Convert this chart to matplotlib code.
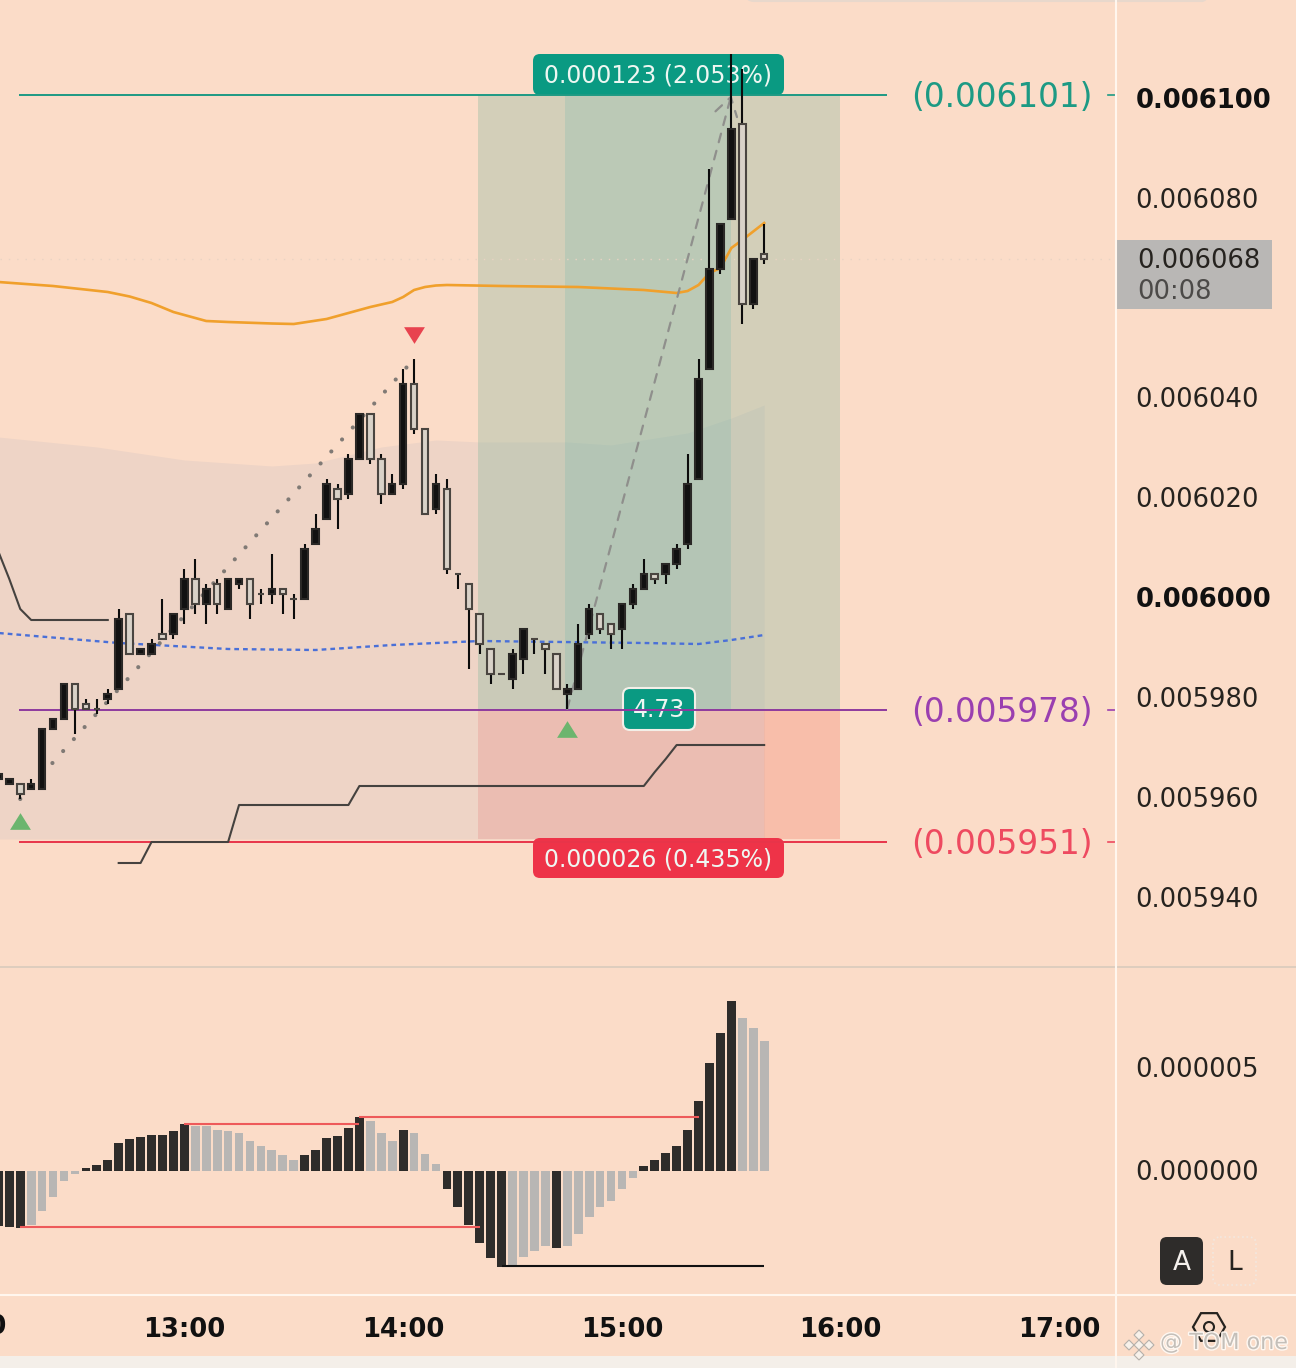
#!/usr/bin/env python3
"""
plot.py - 3 minute candles with a long position box and a MACD style histogram.
"""
import matplotlib
matplotlib.use("Agg")
import matplotlib.pyplot as plt
import matplotlib.patheffects as pe
from matplotlib.lines import Line2D
from matplotlib.patches import FancyBboxPatch, Rectangle, Circle, RegularPolygon
from matplotlib.transforms import Affine2D

plt.rcParams["font.family"] = ["DejaVu Sans"]

BG = "#fbdcc8"
TICK_SIZE = 18.6

# prices are in units of 1e-6, x is the bar number (one bar = 3 minutes)
bars = list(range(-1, 70))
opens = [5964, 5963, 5963, 5962, 5962, 5974, 5976, 5983, 5979, 5978, 5980, 5982, 5997, 5989, 5989, 5993,
         5993, 5998, 6004, 5999, 6003, 5998, 6003, 6004, 6001, 6001, 6002, 6000, 6000, 6011, 6016, 6022,
         6021, 6028, 6037, 6028, 6021, 6023, 6043, 6034, 6018, 6022, 6005, 6003, 5997, 5990, 5985, 5984,
         5988, 5992, 5991, 5989, 5981, 5982, 5993, 5997, 5995, 5994, 5999, 6002, 6005, 6005, 6007, 6011,
         6024, 6046, 6066, 6076, 6095, 6059, 6069]
highs = [5965, 5964, 5963, 5964, 5974, 5976, 5983, 5983, 5980, 5980, 5982, 5998, 5997, 5990, 5992, 6000,
         5997, 6006, 6008, 6003, 6004, 6004, 6004, 6004, 6002, 6009, 6002, 6001, 6011, 6017, 6024, 6023,
         6029, 6037, 6037, 6029, 6025, 6046, 6048, 6034, 6025, 6024, 6005, 6003, 5997, 5990, 5985, 5990,
         5994, 5992, 5991, 5989, 5983, 5995, 5999, 5997, 5995, 5999, 6003, 6008, 6005, 6007, 6011, 6029,
         6048, 6086, 6075, 6109, 6106, 6068, 6075]
lows = [5964, 5963, 5960, 5962, 5962, 5974, 5976, 5973, 5978, 5977, 5979, 5982, 5989, 5989, 5989, 5992,
        5992, 5995, 5997, 5995, 5997, 5998, 6002, 5996, 5999, 5999, 5997, 5996, 6000, 6011, 6016, 6014,
        6020, 6028, 6027, 6019, 6021, 6022, 6033, 6017, 6017, 6005, 6002, 5986, 5989, 5983, 5985, 5982,
        5985, 5989, 5985, 5982, 5978, 5982, 5992, 5993, 5990, 5990, 5998, 6002, 6003, 6003, 6006, 6010,
        6024, 6046, 6065, 6076, 6055, 6058, 6067]
closes = [5965, 5964, 5961, 5963, 5974, 5976, 5983, 5978, 5978, 5978, 5981, 5996, 5989, 5990, 5991, 5992,
          5997, 6004, 5999, 6002, 5999, 6004, 6004, 5999, 6001, 6002, 6001, 6000, 6010, 6014, 6023, 6020,
          6028, 6037, 6028, 6021, 6023, 6043, 6034, 6017, 6023, 6006, 6005, 5998, 5991, 5985, 5985, 5989,
          5994, 5992, 5990, 5982, 5982, 5991, 5998, 5994, 5993, 5999, 6002, 6005, 6004, 6007, 6010, 6023,
          6044, 6066, 6075, 6094, 6059, 6068, 6068]

hist_vals = [-2.7, -2.72, -2.76, -2.63, -1.93, -1.25, -0.47, -0.15, 0.16, 0.29, 0.54, 1.37, 1.56, 1.66, 1.76, 1.76,
             1.95, 2.29, 2.20, 2.20, 2.0, 1.95, 1.85, 1.46, 1.22, 1.02, 0.78, 0.54, 0.78, 1.02, 1.61, 1.71,
             2.10, 2.63, 2.44, 1.85, 1.46, 2.0, 1.85, 0.83, 0.34, -0.88, -1.74, -2.62, -3.50, -4.23, -4.67, -4.59,
             -4.18, -3.89, -3.66, -3.74, -3.66, -3.06, -2.23, -1.74, -1.45, -0.88, -0.33, 0.24, 0.54, 0.88, 1.22, 2.0,
             3.41, 5.27, 6.73, 8.29, 7.46, 6.98, 6.34]
hist_dark = [1, 1, 1, 0, 0, 0, 0, 0, 1, 1, 1, 1, 1, 1, 1, 1,
             1, 1, 0, 0, 0, 0, 0, 0, 0, 0, 0, 0, 1, 1, 1, 1,
             1, 1, 0, 0, 0, 1, 0, 0, 0, 1, 1, 1, 1, 1, 1, 0,
             0, 0, 0, 1, 0, 0, 0, 0, 0, 0, 0, 1, 1, 1, 1, 1,
             1, 1, 1, 1, 0, 0, 0]

ma_x = [-1, 4, 9, 11, 13, 15, 18, 20, 24, 26, 29, 31, 33, 35, 36, 37, 38, 39, 40, 45, 52, 58, 60, 61, 62, 63, 64, 65, 66, 67, 69]
ma_y = [6063.4, 6062.6, 6061.4, 6060.5, 6059.2, 6057.4, 6055.6, 6055.4, 6055.1, 6055.0, 6056.0, 6057.2, 6058.4, 6059.4,
        6060.4, 6061.8, 6062.4, 6062.7, 6062.8, 6062.6, 6062.4, 6061.8, 6061.4, 6061.2, 6061.6, 6062.8, 6065.2,
        6066.2, 6070.2, 6071.8, 6075.2]
mid_x = [-1, 10, 20, 28, 35, 43, 58, 63, 66, 69]
mid_y = [5993.2, 5991.2, 5990.0, 5989.8, 5990.8, 5991.6, 5991.2, 5991.0, 5991.8, 5992.8]
band_x = [-1, 8, 16, 24, 28, 34, 39, 43, 51, 55, 62, 66, 69]
band_top = [6032.4, 6030.4, 6027.8, 6026.6, 6027.2, 6030.4, 6031.8, 6031.4, 6031.4, 6030.8, 6033.2, 6036.2, 6038.8]
band_low = [5952.0] * len(band_x)
stop1_x = [-1, 0, 1, 2, 9]
stop1_y = [6009.5, 6004.0, 5998.0, 5995.8, 5995.8]
stop2_x = [10, 12, 13, 20, 21, 31, 32, 58, 59, 60, 61, 69]
stop2_y = [5947.2, 5947.2, 5951.4, 5951.4, 5958.8, 5958.8, 5962.6, 5962.6, 5965.4, 5968.0, 5970.8, 5970.8]

target, entry, stop = 6100.8, 5977.8, 5951.4
last_price = 6068
price_ticks = [6100, 6080, 6040, 6020, 6000, 5980, 5960, 5940]
hist_ticks = [0, 5]
time_bars = [16, 36, 56, 76, 96]
time_labels = ["13:00", "14:00", "15:00", "16:00", "17:00"]

W, H = 1296, 1368
fig = plt.figure(figsize=(W / 100, H / 100), dpi=100, facecolor=BG)
# pixel coordinates with the origin at the top left, for the screen furniture
px = Affine2D().scale(1, -1).translate(0, H)

ax = fig.add_axes([0, (H - 967) / H, 1116 / W, 967 / H], facecolor="none")
sub = fig.add_axes([0, (H - 1295) / H, 1116 / W, 328 / H], facecolor="none")
xlim = (-0.85, 101.16)
ax.set_xlim(*xlim)
ax.set_ylim(5926.4, 6119.8)
sub.set_xlim(*xlim)
sub.set_ylim(-6.05, 9.95)
for a in (ax, sub):
    for s in a.spines.values():
        s.set_visible(False)

# band and position zones
ax.fill_between(band_x, band_low, band_top, color="#bab4be", alpha=0.2, lw=0, zorder=1)
ax.add_patch(Rectangle((42.85, entry), 33.05, target - entry, fc="#79b499", alpha=0.3, lw=0, zorder=1))
ax.add_patch(Rectangle((50.8, entry), 15.17, target - entry, fc="#5cb2ab", alpha=0.2, lw=0, zorder=1))
ax.add_patch(Rectangle((42.85, 5952.0), 33.05, entry - 5952.0, fc="#ec4632", alpha=0.2, lw=0, zorder=1))
ax.add_patch(Rectangle((42.85, 5952.0), 26.15, entry - 5952.0, fc="#e3e9ff", alpha=0.12, lw=0, zorder=1))

# levels
ax.axhline(last_price, color="#e9d3c3", lw=1, ls=(0, (1, 5)), zorder=1.5)
ax.hlines(target, 0.89, 80.2, color="#1d9a84", lw=1.4, zorder=4)
ax.hlines(entry, 0.89, 80.2, color="#8e3a9e", lw=1.4, zorder=4)
ax.hlines(stop, 0.89, 80.2, color="#e8354a", lw=1.4, zorder=4)

# indicator lines
ax.plot(ma_x, ma_y, color="#f0a02c", lw=1.9, zorder=4)
ax.plot(mid_x, mid_y, color="#4a70d8", lw=1.7, ls=(0, (2, 1.7)), zorder=4)
ax.plot(stop1_x, stop1_y, color="#45423f", lw=1.5, zorder=4)
ax.plot(stop2_x, stop2_y, color="#45423f", lw=1.5, zorder=4)

# swing lines
ax.plot([1, 37], [5960, 6048], color="#807a75", lw=3.0, ls=(0, (0.01, 3.85)), dash_capstyle="round", zorder=4)
ax.annotate("", xy=(66, target), xytext=(51, 5978),
            arrowprops=dict(arrowstyle="->,head_length=0.8,head_width=0.5", ls=(0, (4, 4)), color="#8f8f8c",
                            lw=1.6, shrinkA=0, shrinkB=0, mutation_scale=16), zorder=4)

# candles
for i, o, h, l, c in zip(bars, opens, highs, lows, closes):
    up = c > o
    ax.vlines(i, l, h, color="#0c0c0c", lw=1.5, zorder=5)
    ax.add_patch(Rectangle((i - 0.3, min(o, c)), 0.6, abs(c - o), zorder=6, lw=1.5,
                           fc="#111111" if up else "#d9d2c8", ec="#2a2826" if up else "#4a4540"))

# signal triangles
tri = [(-1, -0.8), (1, -0.8), (0, 0.8)]
ax.plot([1, 51], [5955.6, 5974.0], ls="none", marker=tri, ms=15, mfc="#6cb56e", mec="none", zorder=5)
ax.plot([37], [6053.0], ls="none", marker=[(-1, 0.7), (1, 0.7), (0, -0.9)], ms=15, mfc="#e8434f", mec="none", zorder=5)

# histogram
sub.bar(bars, hist_vals, width=0.8, color=["#2e2c2a" if d else "#b8b6b4" for d in hist_dark], lw=0, zorder=2)
sub.hlines(2.29, 16, 32, color="#ee5a5a", lw=1.5, zorder=3)
sub.hlines(2.63, 32, 63, color="#ee5a5a", lw=1.5, zorder=3)
sub.hlines(-2.72, 1, 43, color="#ee5a5a", lw=1.5, zorder=3)
sub.hlines(-4.63, 45, 69, color="#111111", lw=1.5, zorder=3)

# axes text, nudged a little up as the labels sit above their levels
ax.yaxis.tick_right()
ax.set_yticks([p + 0.3 for p in price_ticks])
ax.set_yticklabels([f"{p * 1e-6:.6f}" for p in price_ticks])
ax.tick_params(axis="y", length=0, pad=14, labelsize=TICK_SIZE, labelcolor="#26231f")
for lab, p in zip(ax.get_yticklabels(), price_ticks):
    if p in (6100, 6000):
        lab.set_fontweight("bold")
        lab.set_color("#111111")
ax.set_xticks([])

sub.yaxis.tick_right()
sub.set_yticks([v + 0.07 for v in hist_ticks])
sub.set_yticklabels([f"{v * 1e-6:.6f}" for v in hist_ticks])
sub.tick_params(axis="y", length=0, pad=14, labelsize=TICK_SIZE, labelcolor="#26231f")
sub.set_xticks(time_bars)
sub.set_xticklabels(time_labels, fontweight="bold")
sub.tick_params(axis="x", length=0, pad=15.5, labelsize=TICK_SIZE, labelcolor="#111111")
sub.text(-4, -0.0976, "12:00", transform=sub.get_xaxis_transform(), ha="center", va="center",
         fontsize=TICK_SIZE, fontweight="bold", color="#111111", clip_on=False)

# level tags to the right
for price, col, lab in [(target, "#1d9a84", "(0.006101)"), (entry, "#9a3fb0", "(0.005978)"), (stop, "#ee4a60", "(0.005951)")]:
    ax.text(82.4, price - 0.5, lab, color=col, fontsize=23.6, va="center", ha="left", zorder=7)
    fig.add_artist(Line2D([1108, 1116], [*[H - (99 - (price - 6100) * 5)] * 2], color=col, lw=1.2,
                          transform=Affine2D()))


def badge(x0, y0, x1, y1, text, fc, ec="none", size=17):
    ax.add_patch(FancyBboxPatch((x0 + 6, y0 + 6), x1 - x0 - 12, y1 - y0 - 12, boxstyle="round,pad=6,rounding_size=7",
                                fc=fc, ec=ec, lw=1.5, transform=px, zorder=3, clip_on=False))
    ax.text((x0 + x1) / 2, (y0 + y1) / 2 + 1, text, color="#eef7f2", fontsize=size, ha="center", va="center",
            transform=px, zorder=3.5)


badge(533, 54, 784, 95, "0.000123 (2.053%)", "#0a9a82")
badge(533, 838, 784, 878, "0.000026 (0.435%)", "#ee3348")
badge(623, 688, 695, 730, "4.73", "#0a9a82", ec="#f3efe8")

# grid lines and screen furniture
fig.add_artist(Line2D([0, W], [H - 967, H - 967], color="#d9cabd", lw=1.2, transform=Affine2D()))
fig.add_artist(Line2D([0, W], [H - 1295, H - 1295], color="#fff6ee", lw=1.5, transform=Affine2D()))
fig.add_artist(Line2D([1116, 1116], [0, H], color="#fff6ee", lw=1.5, transform=Affine2D()))
fig.add_artist(Rectangle((0, 1356), W, 12, fc="#f4efe9", lw=0, transform=px))
fig.add_artist(FancyBboxPatch((750, -30), 456, 27, boxstyle="round,pad=4,rounding_size=8", fc="none", ec="#e8d8cc",
                              lw=1.5, transform=px))

# last price box
fig.add_artist(Rectangle((1117, 240), 155, 69, fc="#b9b7b5", lw=0, transform=px))
fig.text(1137, 261, "0.006068", color="#26231f", fontsize=TICK_SIZE, va="center", transform=px)
fig.text(1137, 292, "00:08", color="#4c4a48", fontsize=TICK_SIZE, va="center", transform=px)

# A / L buttons
fig.add_artist(FancyBboxPatch((1166, 1243), 31, 36, boxstyle="round,pad=6,rounding_size=7", fc="#2e2c2a", ec="none",
                              transform=px))
fig.add_artist(FancyBboxPatch((1219, 1243), 31, 36, boxstyle="round,pad=6,rounding_size=7", fc="none", ec="#f2e8e0",
                              lw=1.2, ls=":", transform=px))
fig.text(1181.5, 1263, "A", color="#f5f1ed", fontsize=19, ha="center", va="center", transform=px)
fig.text(1234.5, 1263, "L", color="#26231f", fontsize=19, ha="center", va="center", transform=px)

# settings icon and watermark
fig.add_artist(RegularPolygon((1209, 1327), 6, radius=16, orientation=0.5236, fc="none", ec="#26231f", lw=1.6, transform=px))
fig.add_artist(Circle((1209, 1327), 5, fc="none", ec="#26231f", lw=1.5, transform=px))
fig.text(1160, 1343, "@ TOM one", color="#c4bfb9", fontsize=16, va="center", transform=px,
         path_effects=[pe.withStroke(linewidth=2, foreground="#fff8f2")])
for dx, dy in [(0, -10), (-10, 0), (10, 0), (0, 10), (0, 0)]:
    fig.add_artist(RegularPolygon((1139 + dx, 1345 + dy), 4, radius=5, fc="#f7f1ea", ec="#b5b0aa", lw=0.8, transform=px))

fig.savefig("out.png", dpi=100, facecolor=BG)
print("wrote out.png")
